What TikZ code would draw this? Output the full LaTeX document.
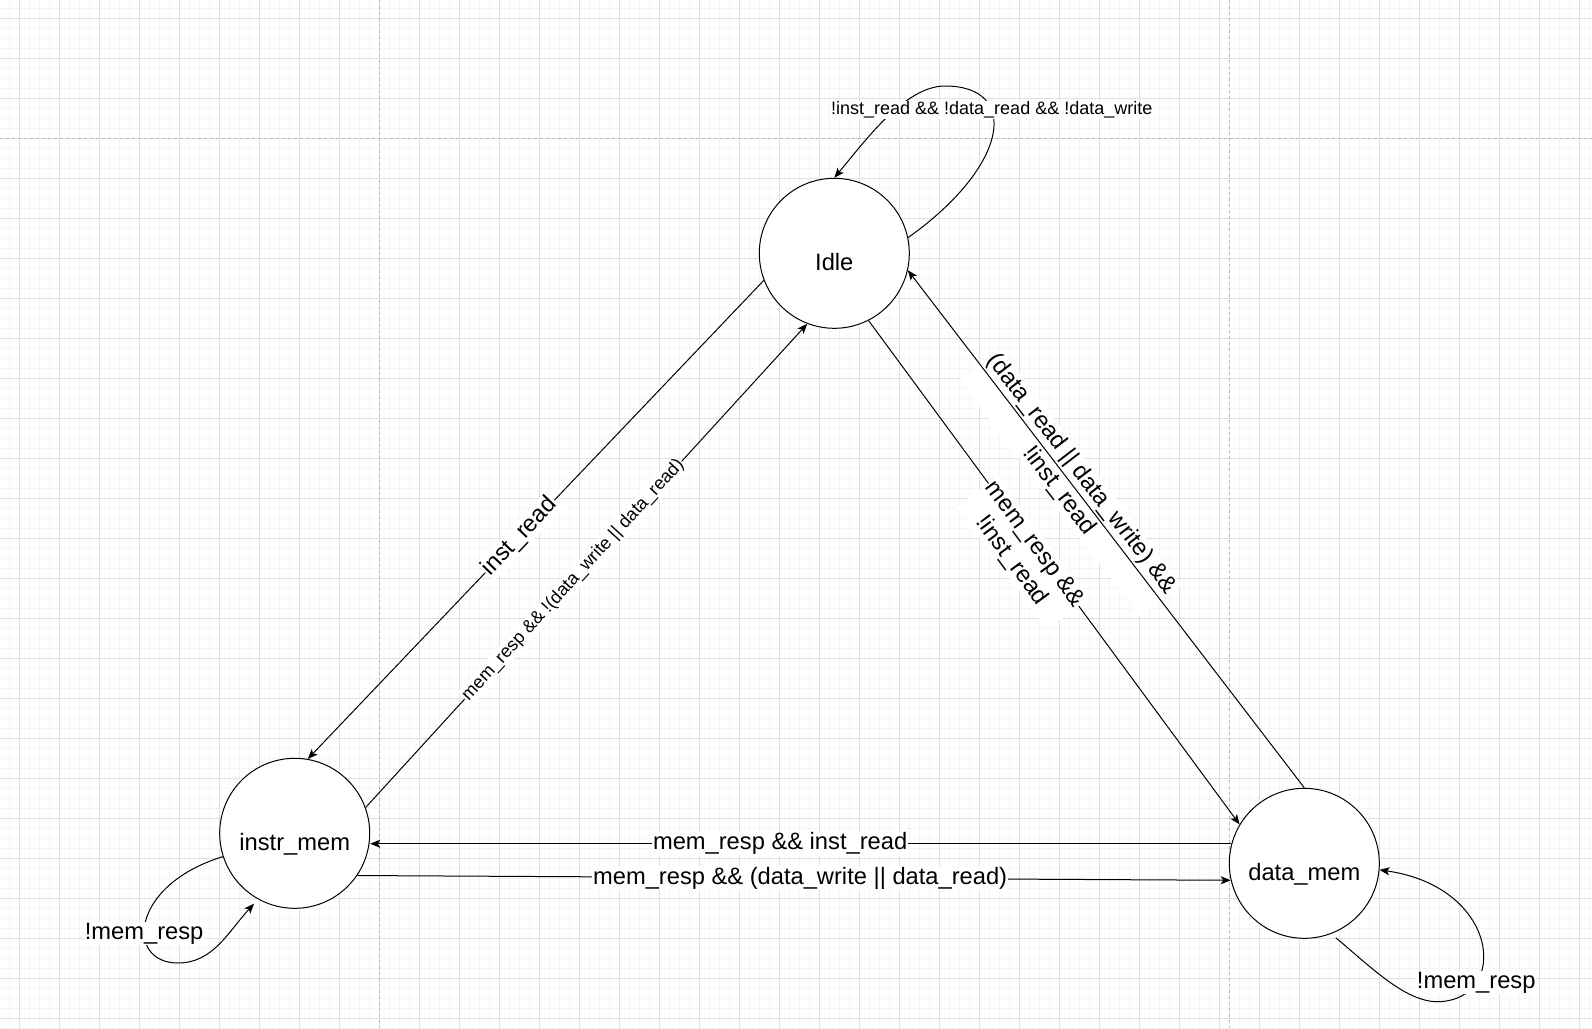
\documentclass[tikz,border=0pt]{standalone}
\usepackage{fontspec}
\setmainfont{Liberation Sans}
\usetikzlibrary{arrows.meta}
\definecolor{gridminor}{RGB}{245,245,245}
\definecolor{gridmajor}{RGB}{224,224,224}
\definecolor{pagebreak}{RGB}{185,185,185}
\begin{document}
\begin{tikzpicture}[x=1pt,y=-1pt,
  state/.style={circle, draw=black, line width=1pt, fill=white, minimum size=150pt, inner sep=0pt,
    font=\fontsize{23.7}{28}\selectfont, text height=34pt, text depth=0pt},
  edge/.style={draw=black, line width=1pt, -{Stealth[length=10pt, width=8pt, inset=2.5pt]}},
  lbl/.style={fill=white, inner sep=1pt, text=black, font=\fontsize{23.7}{28}\selectfont},
  slbl/.style={fill=white, inner sep=1pt, text=black, font=\fontsize{18}{22}\selectfont},
  gminor/.style={draw=gridminor, line width=1pt},
  gmajor/.style={draw=gridmajor, line width=1pt},
  pbreak/.style={draw=pagebreak, line width=1pt, dash pattern=on 3pt off 3pt}
]
\useasboundingbox (0,0) rectangle (1592,1028);
\fill[white] (0,0) rectangle (1592,1028);
% grid
\foreach \i in {0,...,158} \draw[gminor] ({9.3+10*\i},0) -- ({9.3+10*\i},1028);
\foreach \i in {0,...,102} \draw[gminor] (0,{8.3+10*\i}) -- (1592,{8.3+10*\i});
\foreach \i in {0,...,39} \draw[gmajor] ({19.3+40*\i},0) -- ({19.3+40*\i},1028);
\foreach \i in {0,...,25} \draw[gmajor] (0,{18.3+40*\i}) -- (1592,{18.3+40*\i});
\draw[pbreak] (379.3,0) -- (379.3,1028);
\draw[pbreak] (1229.3,0) -- (1229.3,1028);
\draw[pbreak] (0,138.3) -- (1592,138.3);

% states
\node[state] (idle) at (834.3,253.3) {Idle};
\node[state] (instr) at (294.7,833.3) {instr\_mem};
\node[state] (data) at (1304.3,863.3) {data\_mem};

% transitions
\draw[edge] (idle.201.2) -- node[lbl, sloped, pos=0.535] {inst\_read} (instr.80.7);
\draw[edge] (instr.20.7) -- node[slbl, sloped, pos=0.47] {mem\_resp \&\& !(data\_write || data\_read)} (idle.-111.1);
\draw[edge] (idle.-63.3) -- node[lbl, sloped, pos=0.445, anchor=north, outer ysep=-12pt, align=center] {mem\_resp \&\&\\!inst\_read} (data.149);
\draw[edge] (data.90) -- node[lbl, sloped, pos=0.59, align=center, behind path] {(data\_read || data\_write) \&\&\\!inst\_read} (idle.-13.3);
\draw[edge] (data.165) -- node[lbl, pos=0.524] {mem\_resp \&\& inst\_read} (data.165 -| instr.east);
\draw[edge] (instr.-34.6) -- node[lbl, pos=0.507] {mem\_resp \&\& (data\_write || data\_read)} (data.193.2);

% self loops
\draw[edge] (idle.12.7) .. controls (1010,165) and (1020,86) .. (945,86)
  node[slbl, pos=0.66] {!inst\_read \&\& !data\_read \&\& !data\_write}
  .. controls (905,86) and (865,141) .. (idle.north);
\draw[edge] (instr.198.3) .. controls (130,885) and (125,963) .. (178,963)
  node[lbl, pos=0.6] {!mem\_resp}
  .. controls (213,963) and (228,932) .. ([shift={(-2.9,5)}]instr.-120.6);
\draw[edge] ([shift={(2,5)}]data.-67.1) .. controls (1370,966) and (1405,1002) .. (1438,1001.7)
  .. controls (1510,1000) and (1500,887) .. (data.-5.8)
  node[lbl, pos=0.25] {!mem\_resp};
\end{tikzpicture}
\end{document}
